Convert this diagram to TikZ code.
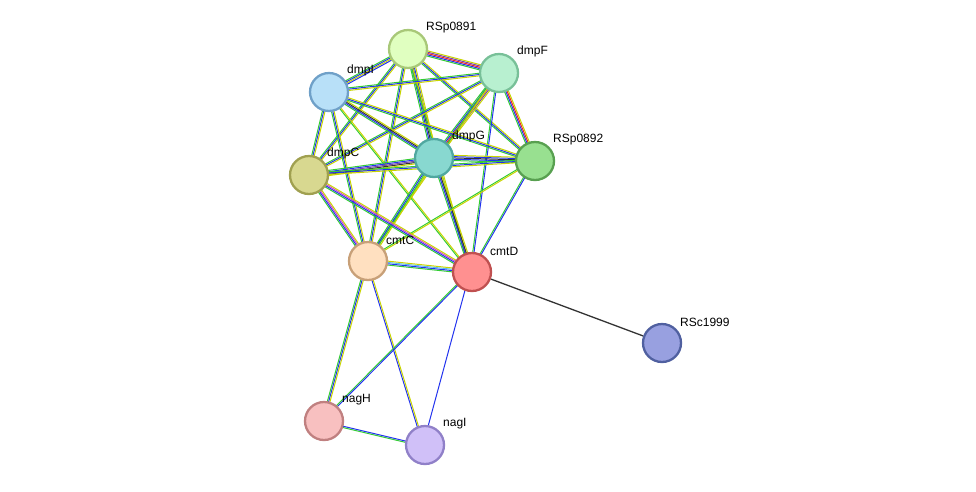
\documentclass[tikz,border=0pt]{standalone}
\usepackage{fontspec}
\setmainfont{Liberation Sans}
\usetikzlibrary{calc,backgrounds}
\definecolor{eg}{HTML}{33CC33}
\definecolor{eb}{HTML}{2233EE}
\definecolor{ey}{HTML}{C8D400}
\definecolor{er}{HTML}{EE2222}
\definecolor{em}{HTML}{CC44CC}
\definecolor{ek}{HTML}{333333}
\definecolor{ec}{HTML}{55BBEE}
\definecolor{ep}{HTML}{7744AA}
\tikzset{
 prot/.style={circle,minimum size=38pt,inner sep=0pt,line width=2.3pt},
 lab/.style={font=\fontsize{12}{14}\selectfont,anchor=south west,inner sep=1pt}
}
\newcommand\ed[3]{%
 \foreach \c [count=\i] in {#3}{%
  \draw[\c,line width=1pt] ($(#1)!{(\i-2.5)*1.3pt}!90:(#2)$) -- ($(#2)!{(\i-2.5)*1.3pt}!-90:(#1)$);}}
\begin{document}
\begin{tikzpicture}[x=1pt,y=-1pt]
\useasboundingbox (0,0) rectangle (976,491);
\node[prot,fill={rgb,255:red,224;green,255;blue,192},draw={rgb,255:red,168;green,200;blue,120}] (s91) at (408,49) {};
\node[prot,fill={rgb,255:red,184;green,240;blue,208},draw={rgb,255:red,120;green,192;blue,152}] (dF) at (499,73) {};
\node[prot,fill={rgb,255:red,184;green,224;blue,248},draw={rgb,255:red,111;green,160;blue,200}] (dI) at (329,92) {};
\node[prot,fill={rgb,255:red,136;green,216;blue,208},draw={rgb,255:red,80;green,168;blue,160}] (dG) at (434,158) {};
\node[prot,fill={rgb,255:red,152;green,224;blue,144},draw={rgb,255:red,88;green,160;blue,80}] (s92) at (535,161) {};
\node[prot,fill={rgb,255:red,216;green,216;blue,144},draw={rgb,255:red,160;green,160;blue,80}] (dC) at (309,175) {};
\node[prot,fill={rgb,255:red,255;green,224;blue,192},draw={rgb,255:red,200;green,160;blue,120}] (cC) at (368,261) {};
\node[prot,fill={rgb,255:red,255;green,144;blue,144},draw={rgb,255:red,192;green,80;blue,80}] (cD) at (472,272) {};
\node[prot,fill={rgb,255:red,152;green,160;blue,224},draw={rgb,255:red,80;green,96;blue,160}] (rs) at (662,343) {};
\node[prot,fill={rgb,255:red,248;green,192;blue,192},draw={rgb,255:red,192;green,128;blue,128}] (nH) at (324,421) {};
\node[prot,fill={rgb,255:red,208;green,192;blue,248},draw={rgb,255:red,144;green,128;blue,200}] (nI) at (425,445) {};
\node[lab] at (425,34) {RSp0891};
\node[lab] at (516,58) {dmpF};
\node[lab] at (346,77) {dmpI};
\node[lab] at (451,143) {dmpG};
\node[lab] at (552,146) {RSp0892};
\node[lab] at (326,160) {dmpC};
\node[lab] at (385,246) {cmtC};
\node[lab] at (489,257) {cmtD};
\node[lab] at (679,328) {RSc1999};
\node[lab] at (341,406) {nagH};
\node[lab] at (442,430) {nagI};
\begin{scope}[on background layer]
\ed{s91}{dF}{eg,eb,er,ep,ey}
\ed{s91}{dI}{eg,eb,ey,eb}
\ed{s91}{dG}{eg,eb,ek,eb,ey}
\ed{s91}{s92}{eg,eb,ey}
\ed{s91}{dC}{eg,eb,ey}
\ed{s91}{cC}{eg,eb,ey}
\ed{s91}{cD}{eg,ey}
\ed{dF}{dI}{eg,eb,ey}
\ed{dF}{dG}{eg,eb,er,ep,ey}
\ed{dF}{s92}{eg,eb,er,ey}
\ed{dF}{dC}{eg,eb,ey}
\ed{dF}{cC}{eg,ey}
\ed{dF}{cD}{eg,eb}
\ed{dI}{dG}{eg,eb,ek,ey}
\ed{dI}{s92}{eg,eb,ey}
\ed{dI}{dC}{eg,eb,ey}
\ed{dI}{cC}{eg,eb,ey}
\ed{dI}{cD}{eg,ey}
\ed{dG}{s92}{eg,eb,ek,eb,ey}
\ed{dG}{dC}{eg,eb,ep,ek,ey}
\ed{dG}{cC}{eg,eb,eg,ey}
\ed{dG}{cD}{eg,eb,ek,ey}
\ed{s92}{dC}{eg,eb,ey}
\ed{s92}{cC}{eg,ey}
\ed{s92}{cD}{eg,eb}
\ed{dC}{cC}{eg,eb,em,ey}
\ed{dC}{cD}{eg,eb,em,ey}
\ed{cC}{cD}{eg,eb,ec,ey}
\ed{cC}{nH}{eg,eb,ey}
\ed{cC}{nI}{eb,ey}
\ed{cD}{nH}{eg,eb}
\ed{cD}{nI}{eb}
\ed{nH}{nI}{eg,eb}
\draw[ek,line width=1.3pt] (cD) -- (rs);
\end{scope}
\end{tikzpicture}
\end{document}
